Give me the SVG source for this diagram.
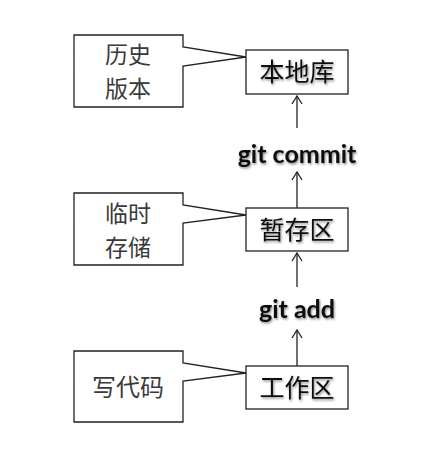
<svg xmlns="http://www.w3.org/2000/svg" width="442" height="468" viewBox="0 0 442 468">
<style>
.callout{fill:#fff;stroke:#222;stroke-width:1.3}
.box{fill:#fff;stroke:#222;stroke-width:1.3}
.note{font-family:"Noto Sans CJK SC",sans-serif;font-size:24px;fill:#3a3a3a;text-anchor:middle}
.note2{font-family:"Noto Sans CJK SC",sans-serif;font-size:23px;fill:#3a3a3a;text-anchor:middle}
.name{font-family:"Noto Sans CJK SC",sans-serif;font-size:25px;fill:#111;text-anchor:middle;filter:url(#sh)}
.cmd{font-family:Lato,"Noto Sans",sans-serif;font-weight:bold;font-size:25px;fill:#111;text-anchor:middle;filter:url(#sh)}
.conn{stroke:#222;stroke-width:1.3;fill:none;marker-end:url(#arr)}
</style>
<defs>
<filter id="sh" x="-10%" y="-20%" width="130%" height="150%">
<feDropShadow dx="1" dy="1.5" stdDeviation="1.2" flood-color="#000" flood-opacity="0.45"/>
</filter>
<marker id="arr" viewBox="0 0 10 12" refX="9" refY="6" markerWidth="10" markerHeight="12" markerUnits="userSpaceOnUse" orient="auto">
<path d="M1,1 L9,6 L1,11" fill="none" stroke="#222" stroke-width="1.3"/>
</marker>
</defs>
<g id="connectors">
<line class="conn" x1="297" y1="128" x2="297" y2="96"/>
<line class="conn" x1="297" y1="208" x2="297" y2="172"/>
<line class="conn" x1="297" y1="287" x2="297" y2="253"/>
<line class="conn" x1="297" y1="366" x2="297" y2="330"/>
</g>
<g id="note-history">
<path class="callout" d="M74,35 H183 V47 L246,57 L183,66 V107 H74 Z"/>
<text class="note2" x="128" y="63">历史</text>
<text class="note2" x="128" y="97">版本</text>
</g>
<g id="node-local">
<rect class="box" x="246" y="50" width="102" height="44"/>
<text class="name" x="297" y="81">本地库</text>
</g>
<g id="label-commit">
<text class="cmd" x="297" y="163">git commit</text>
</g>
<g id="note-temp">
<path class="callout" d="M74,193 H183 V205 L246,215 L183,223 V265 H74 Z"/>
<text class="note2" x="128" y="222">临时</text>
<text class="note2" x="128" y="256">存储</text>
</g>
<g id="node-stage">
<rect class="box" x="246" y="208" width="102" height="43"/>
<text class="name" x="297" y="239">暂存区</text>
</g>
<g id="label-add">
<text class="cmd" x="297" y="318">git add</text>
</g>
<g id="note-code">
<path class="callout" d="M74,351 H183 V363 L246,373 L183,381 V422 H74 Z"/>
<text class="note" x="128" y="396">写代码</text>
</g>
<g id="node-work">
<rect class="box" x="246" y="366" width="102" height="43"/>
<text class="name" x="297" y="397">工作区</text>
</g>
</svg>
